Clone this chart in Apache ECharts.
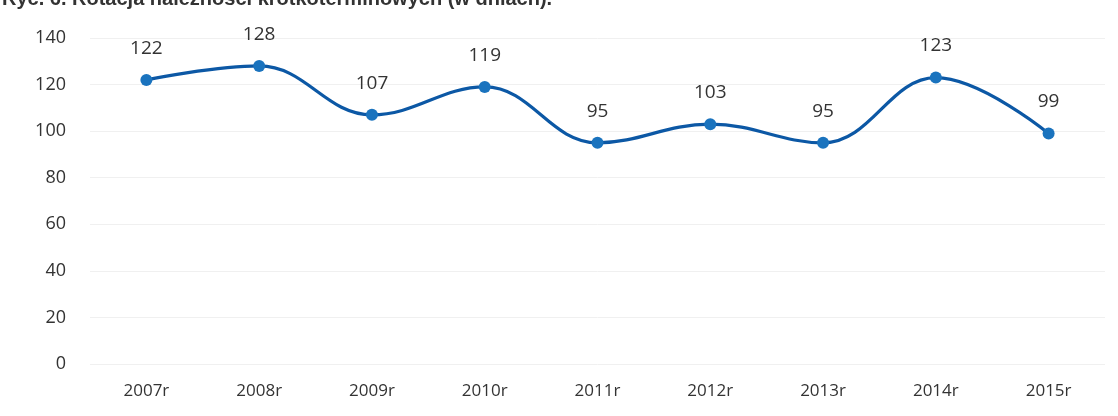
<!DOCTYPE html>
<html>
<head>
<meta charset="utf-8">
<script src="https://cdn.jsdelivr.net/npm/echarts@6/dist/echarts.min.js"></script>
<style>
html,body{margin:0;padding:0;background:#fff;}
#chart{width:1118px;height:416px;}
</style>
</head>
<body>
<div id="chart"></div>
<script>
const titleText = 'Ryc. 6. Rotacja należności krótkoterminowych (w dniach).';
const categories = ['2007r','2008r','2009r','2010r','2011r','2012r','2013r','2014r','2015r'];
const values = [122, 128, 107, 119, 95, 103, 95, 123, 99];
const yTicks = { min: 0, max: 140, interval: 20 };

const chart = echarts.init(document.getElementById('chart'), null, {renderer: 'canvas'});
chart.setOption({
  backgroundColor: '#ffffff',
  animation: false,
  title: {
    text: titleText,
    left: 2,
    top: -11,
    padding: 0,
    textStyle: { fontFamily: 'Liberation Sans', fontSize: 20, fontWeight: 'bold', color: '#333' }
  },
  grid: { left: 90, right: 13, top: 38, bottom: 52, containLabel: false },
  xAxis: {
    type: 'category',
    data: categories,
    boundaryGap: true,
    axisLine: { show: false },
    axisTick: { show: false },
    axisLabel: { margin: 19, fontFamily: 'Open Sans', fontSize: 17, color: '#333' },
    splitLine: { show: false }
  },
  yAxis: {
    type: 'value',
    min: yTicks.min,
    max: yTicks.max,
    interval: yTicks.interval,
    axisLine: { show: false },
    axisTick: { show: false },
    axisLabel: { margin: 24, fontFamily: 'Open Sans', fontSize: 18, color: '#333' },
    splitLine: { show: true, lineStyle: { color: '#f0f0f0', width: 1 } }
  },
  series: [{
    type: 'line',
    data: values,
    smooth: 0.4,
    symbol: 'circle',
    symbolSize: 12,
    lineStyle: { color: '#0c58a5', width: 3.2 },
    itemStyle: { color: '#1a73be' },
    label: {
      show: true,
      position: 'top',
      distance: 16,
      fontFamily: 'Open Sans',
      fontSize: 19,
      color: '#333'
    }
  }]
});
</script>
</body>
</html>
